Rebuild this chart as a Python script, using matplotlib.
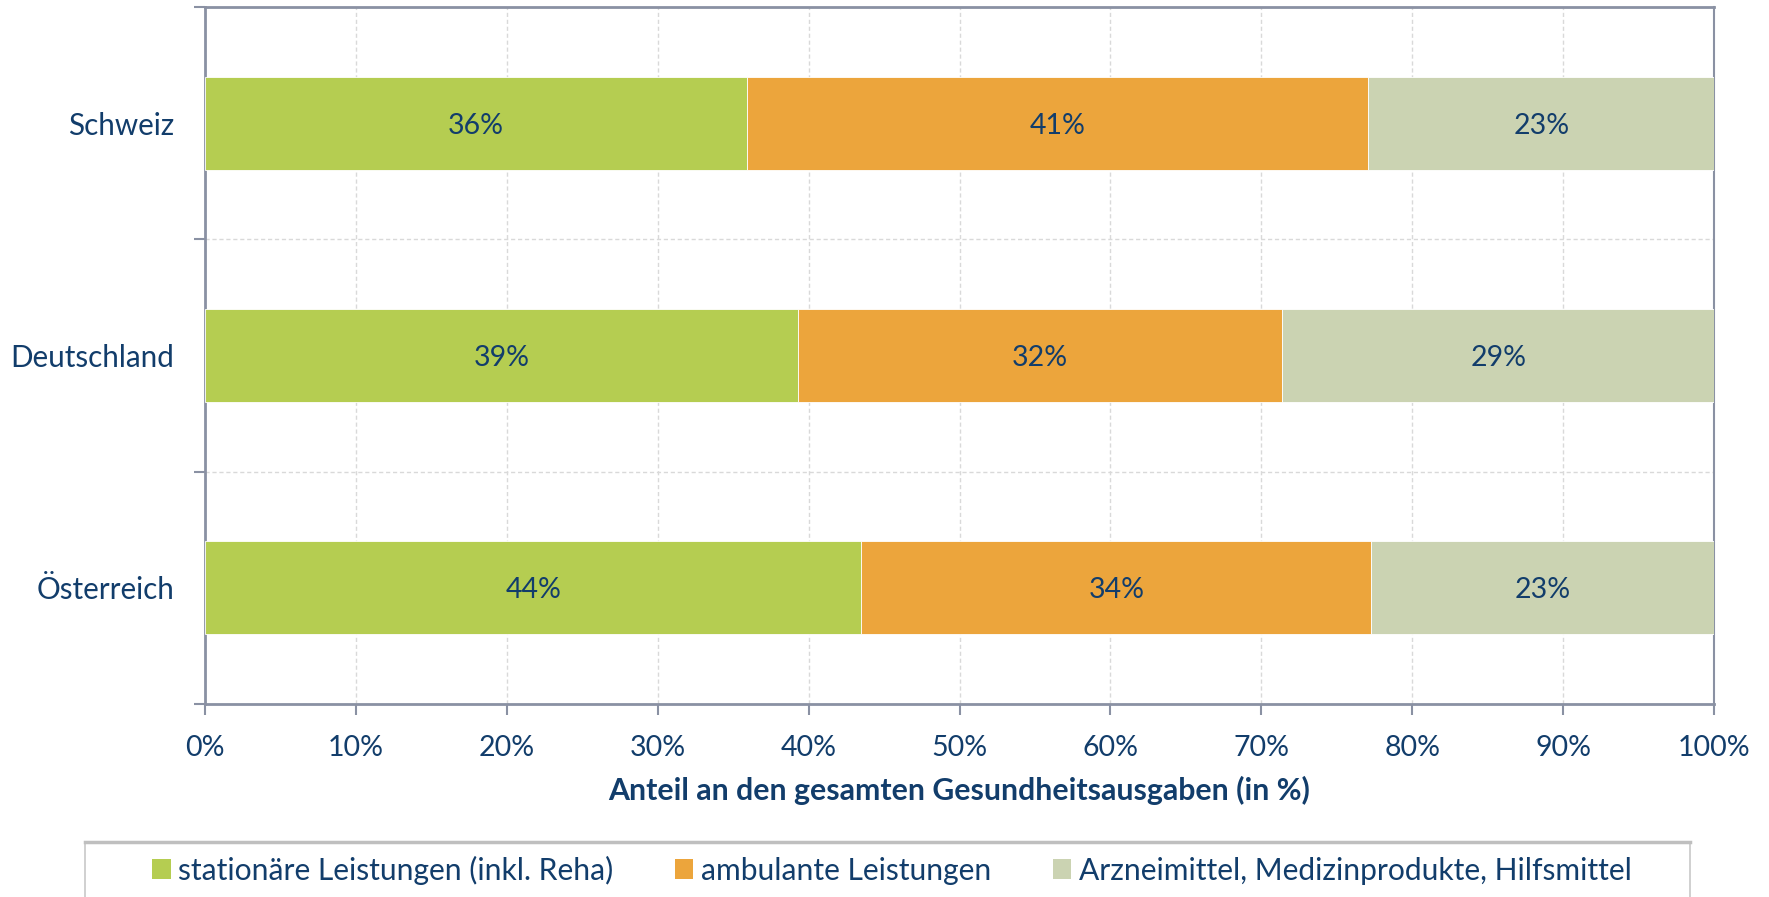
import matplotlib
matplotlib.use("Agg")
import matplotlib.pyplot as plt
from matplotlib.patches import Rectangle, Patch
from matplotlib.lines import Line2D
import numpy as np

plt.rcParams['font.family'] = ['Lato', 'DejaVu Sans']

countries = ["Schweiz", "Deutschland", "Österreich"]
series_names = ["stationäre Leistungen (inkl. Reha)", "ambulante Leistungen",
                "Arzneimittel, Medizinprodukte, Hilfsmittel"]
stationaer = [35.9, 39.3, 43.5]
ambulant = [41.2, 32.1, 33.8]
arznei = [22.9, 28.6, 22.7]
value_labels = [["36%", "41%", "23%"], ["39%", "32%", "29%"], ["44%", "34%", "23%"]]
xticks = [0, 10, 20, 30, 40, 50, 60, 70, 80, 90, 100]
xlabel = "Anteil an den gesamten Gesundheitsausgaben (in %)"

colors = ["#B5CD51", "#ECA53C", "#CBD3B2"]
txt = "#123D6B"
spine_c = "#8A91A3"
grid_c = "#D9D9D9"

W, H = 1769, 897
fig = plt.figure(figsize=(W / 100, H / 100), dpi=100)
ax = fig.add_axes([205 / W, 1 - 704 / H, (1714 - 205) / W, (704 - 7) / H])

y = np.arange(len(countries))
data = [stationaer, ambulant, arznei]
left = np.zeros(len(countries))
for vals, c in zip(data, colors):
    ax.barh(y, vals, left=left, height=0.40, color=c, edgecolor="white", linewidth=0.6, zorder=3)
    left = left + np.array(vals)

left = np.zeros(len(countries))
for si, vals in enumerate(data):
    for ci, v in enumerate(vals):
        ax.text(left[ci] + v / 2, y[ci], value_labels[ci][si], ha="center", va="center_baseline",
                fontsize=20.5, color=txt, zorder=4)
    left = left + np.array(vals)

ax.set_xlim(0, 100)
ax.set_ylim(len(countries) - 0.5, -0.5)
ax.set_xticks(xticks)
ax.set_xticklabels([f"{t}%" for t in xticks], fontsize=20.5, color=txt)
ax.set_yticks(np.arange(-0.5, len(countries), 1.0))
ax.set_yticklabels([])
ax.set_yticks(y, minor=True)
ax.set_yticklabels(countries, minor=True, fontsize=21.3, color=txt)
ax.tick_params(axis="y", which="minor", length=0, pad=22)
ax.tick_params(axis="y", which="major", length=8, width=1.5, color=spine_c, direction="out")
ax.tick_params(axis="x", which="major", length=8, width=1.5, color=spine_c, direction="out", pad=14)

ax.grid(True, which="major", axis="both", color=grid_c, linestyle=(0, (3, 2)), linewidth=1, zorder=0)
for s in ax.spines.values():
    s.set_color(spine_c)
    s.set_linewidth(2)
ax.spines["right"].set_linewidth(1.5)

ax.set_xlabel(xlabel, fontsize=21.8, fontweight="bold", color=txt, labelpad=11)

# legend frame
frame = Rectangle((85 / W, -0.05), (1690 - 85) / W, 0.05 + 1 - 842 / H, transform=fig.transFigure,
                  facecolor="white", edgecolor="#C8C8C8", linewidth=1.2, zorder=0)
fig.patches.append(frame)
fig.add_artist(Line2D([85 / W, 1690 / W], [1 - 842 / H, 1 - 842 / H], transform=fig.transFigure,
                      color="#BFBFBF", linewidth=2.5))

handles = [Patch(facecolor=c, edgecolor="none") for c in colors]
leg = fig.legend(handles, series_names, ncol=3, loc="center left",
                 bbox_to_anchor=(152 / W, 1 - 870 / H), frameon=False, fontsize=21.6,
                 handlelength=0.62, handleheight=0.62, handletextpad=0.25,
                 columnspacing=2.05, borderpad=0, borderaxespad=0)
for t in leg.get_texts():
    t.set_color(txt)

fig.savefig("out.png", dpi=100)
